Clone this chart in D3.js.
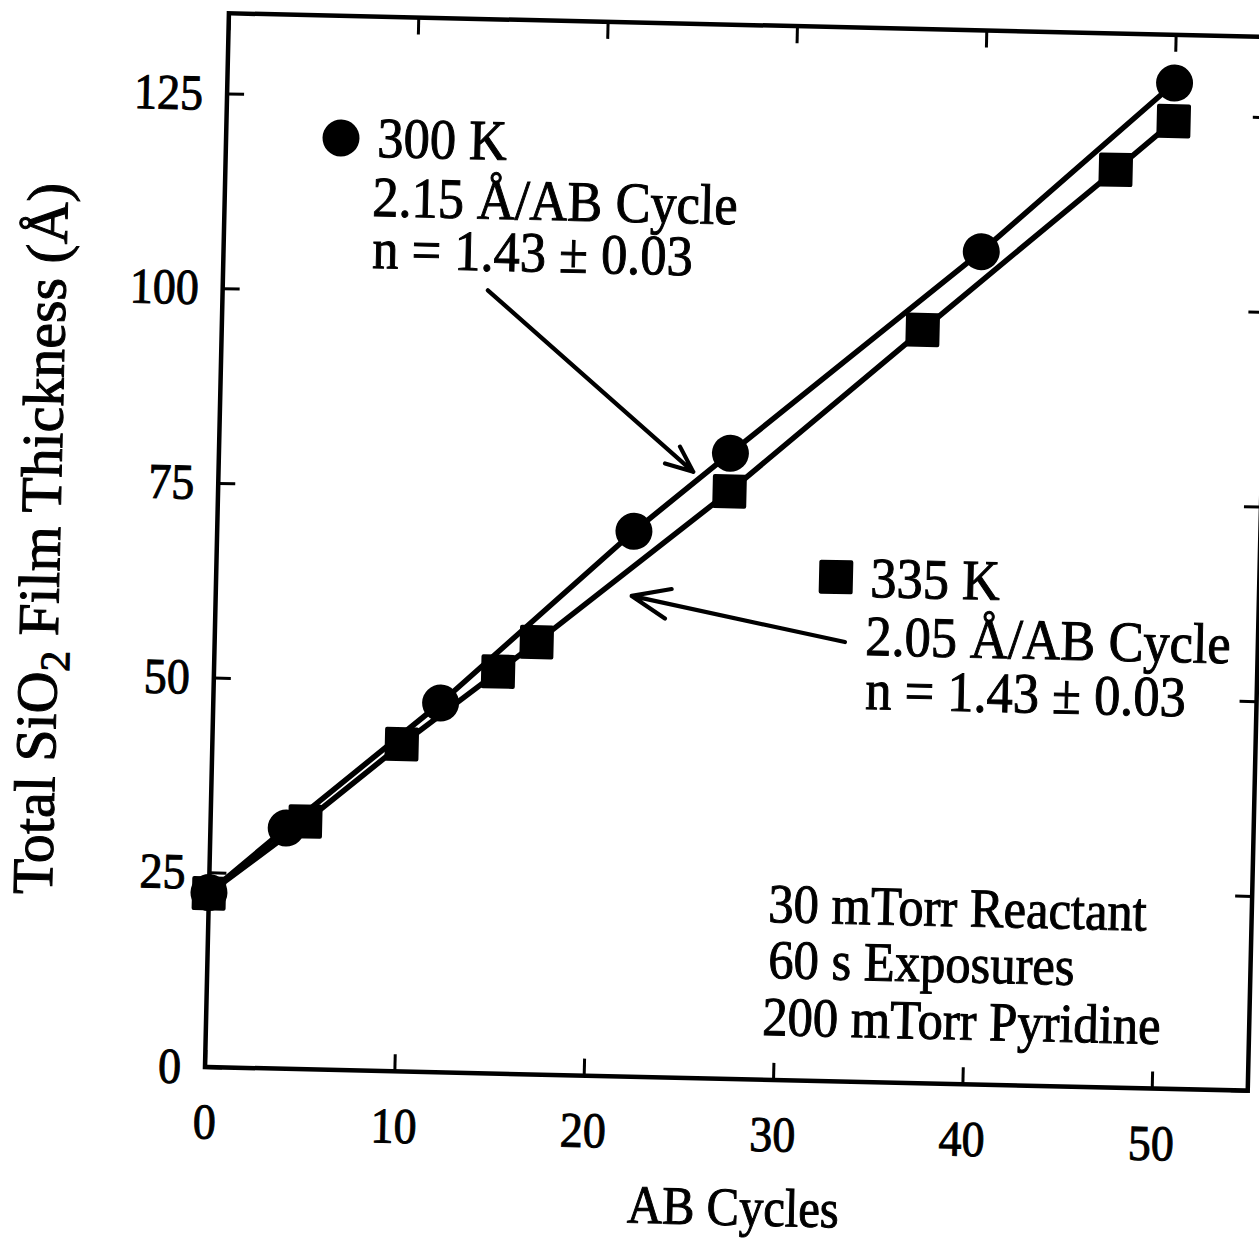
<!DOCTYPE html>
<html><head><meta charset="utf-8">
<script src="https://cdn.jsdelivr.net/npm/d3@7"></script>
<style>
html,body{margin:0;padding:0;background:#fff;}
svg{display:block;}
text{font-family:"Liberation Serif","Times New Roman",serif;fill:#000;}
</style>
</head><body>
<svg id="c" width="1259" height="1245"></svg>
<script>
// ---- data ----
const cycles300 = [0, 4, 12, 22, 27, 40, 50];
const thick300  = [22.4, 30.9, 47.4, 70.0, 80.3, 106.9, 129.1];
const cycles335 = [0, 5, 10, 15, 17, 27, 37, 47, 50];
const thick335  = [22.3, 31.8, 42.0, 51.6, 55.5, 75.4, 96.7, 117.8, 124.2];
const xTicks = [0, 10, 20, 30, 40, 50];
const yTicks = [0, 25, 50, 75, 100, 125];
const xDomain = [0, 55.07];
const yDomain = [0, 135.3];
const xTitle = "AB Cycles";
const yTitleParts = ["Total SiO", "2", " Film Thickness (Å)"];
const legend300 = ["300 K", "2.15 Å/AB Cycle", "n = 1.43 ± 0.03"];
const legend335 = ["335 K", "2.05 Å/AB Cycle", "n = 1.43 ± 0.03"];
const conditions = ["30 mTorr Reactant", "60 s Exposures", "200 mTorr Pyridine"];
// arrows in data units: shaft start, tip, barb1, barb2
const arrow300 = [[14.0, 100.5], [25.06, 77.8], [24.33, 81.0], [23.56, 78.8]];
const arrow335 = [[33.27, 56.4], [21.96, 61.7], [24.06, 62.7], [23.74, 58.9]];

// ---- layout ----
const W = 1259, H = 1245;
const ox = 205, oy = 1067, pw = 1043, ph = 1054;
const ang = 1.3, rad = ang * Math.PI / 180, cs = Math.cos(rad), sn = Math.sin(rad);
function loc(px, py) { const dx = px - ox, dy = py - oy; return [ox + dx * cs + dy * sn, oy - dx * sn + dy * cs]; }
const TS = 1.0; // text stroke to mimic scanned ink weight

const svg = d3.select("#c");
svg.append("rect").attr("width", W).attr("height", H).attr("fill", "#fff");
const g = svg.append("g").attr("transform", `rotate(${ang},${ox},${oy})`);

const x = d3.scaleLinear().domain(xDomain).range([ox, ox + pw]);
const y = d3.scaleLinear().domain(yDomain).range([oy, oy - ph]);

const tl = 17;
function styleAxis(a) {
  a.select(".domain").remove();
  a.attr("font-family", null).attr("font-size", 50);
  a.selectAll("line").attr("stroke", "#000").attr("stroke-width", 3);
  a.selectAll("text").attr("fill", "#000").attr("stroke", "#000").attr("stroke-width", TS);
}
const xa = g.append("g").attr("transform", `translate(0,${oy})`)
  .call(d3.axisBottom(x).tickValues(xTicks).tickSize(-tl).tickPadding(36)).call(styleAxis);
xa.selectAll(".tick text").attr("transform", "scale(0.92,1)");
const ya = g.append("g").attr("transform", `translate(${ox},0)`)
  .call(d3.axisLeft(y).tickValues(yTicks).tickSize(-tl).tickPadding(26)).call(styleAxis);
ya.selectAll(".tick text").attr("transform", "scale(0.92,1)");
g.append("g").attr("transform", `translate(0,${oy - ph})`)
  .call(d3.axisTop(x).tickValues(xTicks).tickSize(-tl).tickFormat("")).call(styleAxis);
g.append("g").attr("transform", `translate(${ox + pw},0)`)
  .call(d3.axisRight(y).tickValues(yTicks).tickSize(-tl).tickFormat("")).call(styleAxis);

g.append("rect").attr("x", ox).attr("y", oy - ph).attr("width", pw).attr("height", ph)
  .attr("fill", "none").attr("stroke", "#000").attr("stroke-width", 4.5);

// titles
g.append("text").attr("text-anchor", "middle")
  .attr("font-size", 54).attr("stroke", "#000").attr("stroke-width", TS)
  .attr("transform", `translate(${ox + 531},${oy + 146}) scale(0.9,1)`)
  .text(xTitle);

const yt = g.append("text").attr("transform", `translate(${ox - 157},${oy - 524.6}) rotate(-90)`)
  .attr("text-anchor", "middle").attr("font-size", 58).attr("stroke", "#000").attr("stroke-width", TS);
yt.append("tspan").text(yTitleParts[0]);
yt.append("tspan").attr("font-size", 42).attr("dy", 12).text(yTitleParts[1]);
yt.append("tspan").attr("dy", -12).text(yTitleParts[2]);

// data lines
const line = d3.line().x(d => x(d[0])).y(d => y(d[1]));
const d300 = d3.zip(cycles300, thick300), d335 = d3.zip(cycles335, thick335);
[d335, d300].forEach(d => g.append("path").datum(d).attr("d", line)
  .attr("fill", "none").attr("stroke", "#000").attr("stroke-width", 5.5).attr("stroke-linejoin", "round"));

const rC = 18.5, sq = 34;
g.selectAll("circle.p300").data(d300).enter().append("circle").attr("class", "p300")
  .attr("cx", d => x(d[0])).attr("cy", d => y(d[1])).attr("r", rC).attr("fill", "#000");
g.selectAll("rect.p335").data(d335).enter().append("rect").attr("class", "p335")
  .attr("x", d => x(d[0]) - sq / 2).attr("y", d => y(d[1]) - sq / 2)
  .attr("width", sq).attr("height", sq).attr("rx", 2).attr("fill", "#000");

// arrows
[arrow300, arrow335].forEach(a => {
  const p = a.map(d => [x(d[0]), y(d[1])]);
  g.append("path").attr("d", `M${p[0]}L${p[1]}M${p[2]}L${p[1]}L${p[3]}`)
    .attr("fill", "none").attr("stroke", "#000").attr("stroke-width", 4.2)
    .attr("stroke-linecap", "round").attr("stroke-linejoin", "round");
});

// annotation text blocks (screen anchors converted into the plot frame)
function block(lines, anchors, fs, sx) {
  lines.forEach((t, i) => {
    const p = loc(anchors[i][0], anchors[i][1]);
    g.append("text").attr("transform", `translate(${p[0]},${p[1]}) scale(${sx},1)`)
      .attr("font-size", fs).attr("stroke", "#000").attr("stroke-width", TS).text(t);
  });
}
block(legend300, [[377, 157], [372, 216], [372, 268]], 57, 0.92);
block(legend335, [[870, 597], [865, 655], [865, 709]], 57, 0.92);
block(conditions, [[768, 922], [768, 978], [762, 1035]], 55, 0.92);

// legend markers
const lc = loc(341, 138), ls = loc(836, 577);
g.append("circle").attr("cx", lc[0]).attr("cy", lc[1]).attr("r", rC).attr("fill", "#000");
g.append("rect").attr("x", ls[0] - sq / 2).attr("y", ls[1] - sq / 2).attr("width", sq).attr("height", sq)
  .attr("rx", 2).attr("fill", "#000");
</script>
</body></html>
